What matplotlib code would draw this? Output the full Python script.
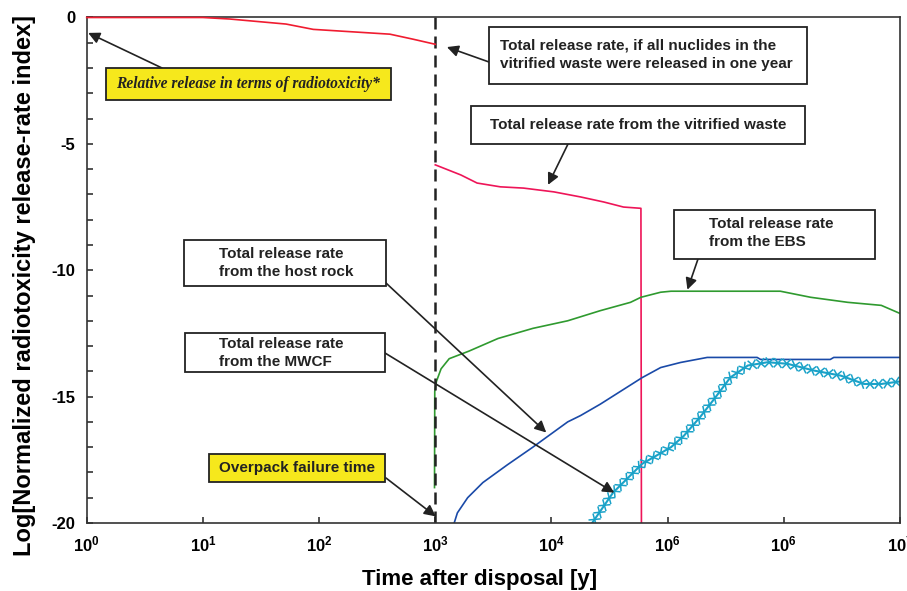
import matplotlib
matplotlib.use("Agg")
import matplotlib.pyplot as plt
from matplotlib import patheffects
from matplotlib.patches import Rectangle
from matplotlib.transforms import Affine2D

plt.rcParams['font.family'] = 'Liberation Sans'
plt.rcParams['mathtext.fontset'] = 'custom'
plt.rcParams['mathtext.rm'] = 'Liberation Sans:bold'
plt.rcParams['mathtext.it'] = 'Liberation Sans:bold'
plt.rcParams['mathtext.bf'] = 'Liberation Sans:bold'
plt.rcParams['axes.unicode_minus'] = False

# values: time [y] and log index
t_oneyear = [1, 10, 17, 52, 89, 407, 646, 1000]
y_oneyear = [0, 0, -0.06, -0.26, -0.47, -0.66, -0.86, -1.06]

t_glass = [1000, 1660, 2290, 3630, 5750, 10500, 17800, 28200, 41700, 58900, 59500]
y_glass = [-5.83, -6.23, -6.55, -6.7, -6.75, -6.9, -7.1, -7.3, -7.5, -7.55, -20.5]

t_ebs = [985, 990, 1023, 1122, 1318, 1950, 3470, 6920, 13800, 26300, 47900,
         58900, 87100, 107000, 933000, 1.7e6, 3.55e6, 6.9e6, 1e7]
y_ebs = [-18.6, -14.8, -14.4, -13.9, -13.5, -13.2, -12.7, -12.3, -12.0, -11.6, -11.27,
         -11.07, -10.87, -10.83, -10.83, -11.07, -11.27, -11.39, -11.71]

t_rock = [1410, 1550, 1900, 2570, 4170, 6920, 9770, 13800, 17800, 26300, 60300,
          87100, 129000, 219000, 589000, 631000, 2.51e6, 2.69e6, 1e7]
y_rock = [-20.2, -19.6, -19.0, -18.4, -17.7, -17.0, -16.5, -16.0, -15.75, -15.3, -14.25,
          -13.85, -13.65, -13.45, -13.45, -13.53, -13.53, -13.45, -13.45]

t_mwcf = [22400, 33900, 60300, 107000, 138000, 191000, 251000, 347000, 490000,
          724000, 1.07e6, 1.82e6, 3.09e6, 4.9e6, 6.9e6, 1e7]
y_mwcf = [-20.0, -18.8, -17.66, -17.0, -16.55, -15.8, -15.1, -14.24, -13.77,
          -13.64, -13.7, -13.97, -14.17, -14.5, -14.5, -14.4]

failure_time = 1000
tick_pos = [1e0, 1e1, 1e2, 1e3, 1e4, 1e5, 1e6, 1e7]
tick_lbl = ['$10^{0}$', '$10^{1}$', '$10^{2}$', '$10^{3}$', '$10^{4}$',
            '$10^{6}$', '$10^{6}$', '$10^{7}$']

fig = plt.figure(figsize=(9.07, 5.91), dpi=100)
ax = fig.add_axes([0.0956, 0.1151, 0.8967, 0.8553])
# pixel coordinates of the 907x591 picture, origin top left
px = Affine2D().scale(1 / 907, -1 / 591).translate(0, 1) + fig.transFigure

ax.plot(t_oneyear, y_oneyear, color='#f01c30', lw=1.2, clip_on=False, zorder=3)
ax.plot(t_glass, y_glass, color='#ee1558', lw=1.2)
ax.plot(t_ebs, y_ebs, color='#2f9a2f', lw=1.2)
ax.plot(t_rock, y_rock, color='#1a4aa8', lw=1.2)
ticks = [patheffects.Normal()] + [
    patheffects.TickedStroke(angle=a, spacing=6.2, length=0.62, linewidth=1.1)
    for a in (50, 230, 130, -50)]
ax.plot(t_mwcf, y_mwcf, color='#1aa2c8', lw=1.5, path_effects=ticks)

ax.axvline(failure_time, color='#222222', lw=1.8, dashes=(4.8, 2.8))

ax.set_xscale('log')
ax.set_xlim(1, 1e7)
ax.set_ylim(-20, 0)
ax.set_xticks(tick_pos)
ax.set_xticklabels(tick_lbl)
ax.xaxis.set_minor_locator(matplotlib.ticker.NullLocator())
ax.set_yticks([0, -5, -10, -15, -20])
ax.set_yticks(range(-19, 0), minor=True)
ax.tick_params(which='both', direction='in', length=4.5, width=1.1, top=False, right=False,
               labelsize=12, pad=8, color='#222222')
for lab in ax.get_yticklabels():
    lab.set_fontweight('bold')
for s in ax.spines.values():
    s.set_linewidth(1.2)
    s.set_color('#333333')

fig.text(480, 579, 'Time after disposal [y]', transform=px, ha='center', va='center',
         fontsize=16, fontweight='bold')
fig.text(25, 285, 'Log[Normalized radiotoxicity release-rate index]', transform=px,
         ha='center', va='center', rotation=90, fontsize=17, fontweight='bold')


def box(x0, y0, x1, y1, face='white'):
    fig.add_artist(Rectangle((x0, y0), x1 - x0, y1 - y0, transform=px,
                             facecolor=face, edgecolor='#222222', lw=1.3, zorder=5))


def arrow(tip, start):
    ax.annotate('', xy=tip, xycoords='data', xytext=start, textcoords=px,
                annotation_clip=False,
                arrowprops=dict(arrowstyle='-|>', mutation_scale=17, lw=1.2,
                                color='#222222', shrinkA=0, shrinkB=0), zorder=4)


txt = dict(transform=px, fontsize=11, fontweight='bold', color='#222222', zorder=6,
           linespacing=1.45)

box(106, 68, 391, 100, '#f6e81c')
fig.text(248, 84, 'Relative release in terms of radiotoxicity*', ha='center', va='center',
         **dict(txt, fontsize=11.2, family='Liberation Serif', style='italic'))
arrow((1.03, -0.61), (162, 68))

box(489, 27, 807, 84)
fig.text(500, 55, 'Total release rate, if all nuclides in the\n'
         'vitrified waste were released in one year', ha='left', va='center', **txt)
arrow((1260, -1.17), (489, 62))

box(471, 106, 805, 144)
fig.text(638, 125, 'Total release rate from the vitrified waste', ha='center',
         va='center', **txt)
arrow((9350, -6.62), (568, 144))

box(674, 210, 875, 259)
fig.text(709, 233, 'Total release rate\nfrom the EBS', ha='left', va='center', **txt)
arrow((148000, -10.77), (698, 259))

box(184, 240, 386, 286)
fig.text(219, 263, 'Total release rate\nfrom the host rock', ha='left', va='center', **txt)
arrow((9020, -16.42), (386, 283))

box(185, 333, 385, 372)
fig.text(219, 353, 'Total release rate\nfrom the MWCF', ha='left', va='center', **txt)
arrow((34700, -18.8), (385, 353))

box(209, 454, 385, 482, '#f6e81c')
fig.text(297, 468, 'Overpack failure time', ha='center', va='center', **txt)
arrow((1010, -19.74), (386, 478))

fig.savefig('out.png', dpi=100)
